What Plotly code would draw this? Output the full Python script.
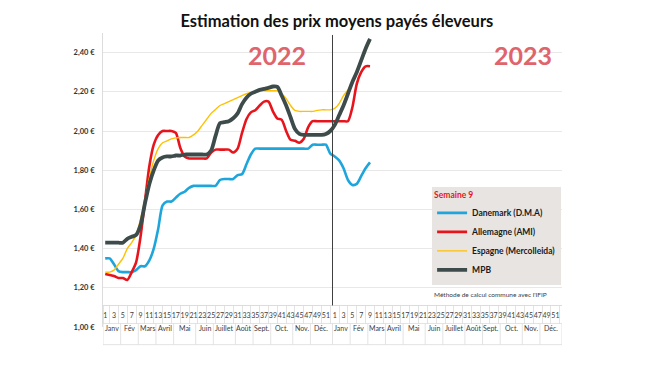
import plotly.graph_objects as go

# ---------------- data ----------------
weeks_2022 = list(range(1, 53))
weeks_2023 = list(range(1, 10))

danemark_2022 = [1.35, 1.35, 1.32, 1.285, 1.28, 1.28, 1.28, 1.29, 1.31, 1.31,
                 1.34, 1.40, 1.50, 1.62, 1.64, 1.64, 1.66, 1.68, 1.69, 1.71,
                 1.72, 1.72, 1.72, 1.72, 1.72, 1.72, 1.75, 1.755, 1.755, 1.755,
                 1.775, 1.78, 1.83, 1.88, 1.91, 1.91, 1.91, 1.91, 1.91, 1.91,
                 1.91, 1.91, 1.91, 1.91, 1.91, 1.91, 1.91, 1.93, 1.93, 1.93,
                 1.93, 1.885]
danemark_2023 = [1.87, 1.85, 1.81, 1.75, 1.725, 1.73, 1.77, 1.81, 1.84]

allemagne_2022 = [1.27, 1.265, 1.26, 1.25, 1.25, 1.24, 1.28, 1.33, 1.46, 1.64,
                  1.82, 1.93, 1.98, 2.00, 2.00, 2.00, 1.99, 1.915, 1.87, 1.86,
                  1.86, 1.86, 1.86, 1.86, 1.89, 1.905, 1.905, 1.905, 1.905, 1.89,
                  1.91, 1.99, 2.06, 2.095, 2.106, 2.13, 2.15, 2.15, 2.10, 2.064,
                  2.057, 2.00, 1.955, 1.95, 1.94, 1.96, 2.02, 2.05, 2.05, 2.05,
                  2.05, 2.05]
allemagne_2023 = [2.05, 2.05, 2.05, 2.05, 2.12, 2.24, 2.30, 2.33, 2.33]

espagne_2022 = [1.28, 1.28, 1.29, 1.32, 1.35, 1.40, 1.43, 1.47, 1.55, 1.65,
                1.76, 1.85, 1.91, 1.94, 1.95, 1.96, 1.965, 1.967, 1.967, 1.967,
                1.98, 2.00, 2.03, 2.06, 2.09, 2.11, 2.13, 2.14, 2.15, 2.16,
                2.17, 2.18, 2.19, 2.197, 2.20, 2.205, 2.205, 2.205, 2.205, 2.205,
                2.19, 2.165, 2.13, 2.105, 2.10, 2.10, 2.10, 2.10, 2.105, 2.108,
                2.108, 2.108]
espagne_2023 = [2.115, 2.14, 2.18, 2.21, 2.25, 2.29, 2.35, 2.41, 2.46]

mpb_2022 = [1.43, 1.43, 1.43, 1.43, 1.43, 1.45, 1.46, 1.47, 1.52, 1.63,
            1.73, 1.80, 1.85, 1.865, 1.87, 1.87, 1.875, 1.875, 1.88, 1.88,
            1.88, 1.88, 1.88, 1.88, 1.90, 1.975, 2.04, 2.045, 2.05, 2.065,
            2.09, 2.137, 2.17, 2.19, 2.20, 2.21, 2.215, 2.22, 2.227, 2.225,
            2.18, 2.13, 2.07, 2.01, 1.985, 1.98, 1.98, 1.98, 1.98, 1.98,
            1.985, 2.00]
mpb_2023 = [2.03, 2.08, 2.13, 2.19, 2.25, 2.30, 2.36, 2.42, 2.47]

series_names = ["Danemark (D.M.A)", "Allemagne (AMI)", "Espagne (Mercolleida)", "MPB"]
series_colors = ["#1ea5dc", "#e8141c", "#ffc000", "#3d4b4b"]
series_widths = [2.6, 2.6, 1.4, 3.8]

months = ["Janv", "Fév", "Mars", "Avril", "Mai", "Juin", "Juillet", "Août",
          "Sept.", "Oct.", "Nov.", "Déc."]
month_start_weeks = [1, 5, 9, 13, 17, 22, 26, 31, 35, 39, 44, 48]
years = ["2022", "2023"]

y_ticks = [1.0, 1.2, 1.4, 1.6, 1.8, 2.0, 2.2, 2.4]
y_tick_text = ["1,00 €", "1,20 €", "1,40 €", "1,60 €", "1,80 €", "2,00 €", "2,20 €", "2,40 €"]

# ---------------- build ----------------
n_weeks = len(weeks_2022)
x_all = list(range(1, n_weeks + len(weeks_2023) + 1))
data = [danemark_2022 + danemark_2023,
        allemagne_2022 + allemagne_2023,
        espagne_2022 + espagne_2023,
        mpb_2022 + mpb_2023]

FONT = "Lato, 'Open Sans', sans-serif"
fig = go.Figure()
for name, vals, col, w in zip(series_names, data, series_colors, series_widths):
    fig.add_trace(go.Scatter(x=x_all, y=vals, name=name, mode="lines",
                             line=dict(color=col, width=w, shape="spline", smoothing=0.7)))

total = 2 * n_weeks
tickvals = list(range(1, total + 1, 2))
ticktext = [str(((i - 1) % n_weeks) + 1) for i in tickvals]
minor_vals = [0.5] + [v + 1 for v in tickvals]

shapes = []
annotations = []
row_top, row_bot = 0.012, -0.06
for k in range(2):
    off = k * n_weeks
    bounds = month_start_weeks + [n_weeks + 1]
    for j, m in enumerate(months):
        c = (bounds[j] + bounds[j + 1] - 1) / 2 + off
        annotations.append(dict(x=c, y=(row_top + row_bot) / 2, xref="x", yref="paper",
                                text=m, showarrow=False,
                                font=dict(size=7, color="#404040", family=FONT)))
        shapes.append(dict(type="line", xref="x", yref="paper",
                           x0=bounds[j] - 0.5 + off, x1=bounds[j] - 0.5 + off,
                           y0=row_bot, y1=row_top, line=dict(color="#dcdcdc", width=0.8)))
shapes.append(dict(type="line", xref="x", yref="paper", x0=total + 0.5, x1=total + 0.5,
                   y0=row_bot, y1=row_top, line=dict(color="#dcdcdc", width=0.8)))
for yy in (row_top, row_bot):
    shapes.append(dict(type="line", xref="x", yref="paper", x0=0.5, x1=total + 0.5,
                       y0=yy, y1=yy, line=dict(color="#dcdcdc", width=0.8)))
# separator between the two years
shapes.append(dict(type="line", xref="x", yref="y", x0=n_weeks + 0.5, x1=n_weeks + 0.5,
                   y0=1.11, y1=2.49, line=dict(color="#404040", width=1)))

# year labels
annotations.append(dict(x=40, y=2.39, xref="x", yref="y", text="<b>" + years[0] + "</b>",
                        showarrow=False, font=dict(size=25, color="#e0646c", family=FONT)))
annotations.append(dict(x=95.7, y=2.39, xref="x", yref="y", text="<b>" + years[1] + "</b>",
                        showarrow=False, font=dict(size=25, color="#e0646c", family=FONT)))
annotations.append(dict(x=0.717, y=0.112, xref="paper", yref="paper", xanchor="left",
                        yanchor="middle", text="Méthode de calcul commune avec l'IFIP",
                        showarrow=False, font=dict(size=6.5, color="#404040", family=FONT)))

# the page body adds an 8px offset, so margins are shifted by -8px
fig.update_layout(
    width=650, height=366,
    margin=dict(l=95, r=96, t=25, b=47),
    paper_bgcolor="white", plot_bgcolor="white",
    font=dict(family=FONT, color="#262626"),
    title=dict(text="<b>Estimation des prix moyens payés éleveurs</b>",
               x=0.506, xanchor="center", y=0.965, yanchor="middle",
               font=dict(size=16.5, color="#111111", family=FONT)),
    showlegend=True,
    legend=dict(x=0.717, y=0.475, xanchor="left", yanchor="top",
                bgcolor="#e7e4e1", borderwidth=0,
                title=dict(text="<b>Semaine 9</b>", font=dict(size=8.5, color="#e8141c", family=FONT)),
                font=dict(size=8.5, color="#1a1a1a", family=FONT, weight="bold"),
                itemwidth=30, tracegroupgap=0),
    xaxis=dict(range=[0.5, total + 0.5], anchor="free", position=0.075,
               showline=True, linecolor="#dcdcdc", linewidth=0.8,
               showgrid=False, zeroline=False,
               tickmode="array", tickvals=tickvals, ticktext=ticktext,
               ticks="outside", ticklen=4, tickcolor="rgba(0,0,0,0)",
               tickfont=dict(size=7, color="#404040", family=FONT), tickangle=0,
               minor=dict(tickmode="array", tickvals=minor_vals, ticks="outside",
                          ticklen=18, tickcolor="#e3e3e3", tickwidth=0.8, showgrid=False)),
    yaxis=dict(range=[1.0, 2.5], tickmode="array", tickvals=y_ticks, ticktext=y_tick_text,
               showgrid=True, gridcolor="#e8e8e8", gridwidth=0.8,
               showline=True, linecolor="#dcdcdc", linewidth=0.8, zeroline=False,
               ticks="", ticklabelstandoff=6,
               tickfont=dict(size=7.5, color="#333333", family=FONT, weight="bold")),
    shapes=shapes, annotations=annotations,
)

fig.write_html("out.html")
